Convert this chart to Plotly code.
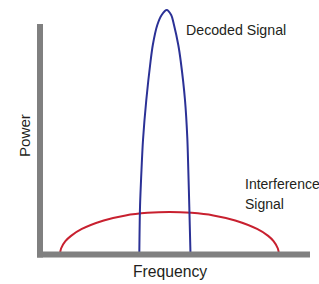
import plotly.graph_objects as go

# Decoded signal (narrow, tall)
blue_freq = [36.78, 37.04, 37.59, 38.15, 39.37, 40.96, 41.78, 43.44, 45.07, 46.93,
             48.59, 49.63, 51.22, 52.11, 53.70, 54.56, 54.93, 55.30, 55.74]
blue_power = [0, 20.65, 36.74, 49.78, 67.17, 84.13, 91.09, 99.78, 104.13, 106.30,
              104.13, 99.78, 91.09, 84.13, 67.17, 50.65, 36.74, 20.65, 0]

# Interference signal (wide, low)
red_freq = [7.4, 7.8, 9.4, 11.5, 15.5, 23.6, 31.7, 39.8, 48.0, 56.1, 64.2, 72.3, 80.4, 84.5, 86.5, 88.1, 88.5]
red_power = [0, 2.6, 5.8, 8.1, 11.1, 14.8, 17.0, 18.1, 18.5, 18.1, 17.0, 14.8, 11.1, 8.1, 5.8, 2.6, 0]

labels = {"decoded": "Decoded Signal", "interf1": "Interference", "interf2": "Signal",
          "x": "Frequency", "y": "Power"}

FONT = "Liberation Sans, Arial, Helvetica, sans-serif"
TXT = "#231f20"
GRAY = "#808080"

fig = go.Figure()
fig.add_trace(go.Scatter(x=red_freq, y=red_power, mode="lines",
                         line=dict(color="#c8202f", width=2, shape="spline"),
                         hoverinfo="skip", showlegend=False))
fig.add_trace(go.Scatter(x=blue_freq, y=blue_power, mode="lines",
                         line=dict(color="#2b3196", width=2, shape="spline", smoothing=0.8),
                         hoverinfo="skip", showlegend=False))

# L-shaped axes
fig.add_shape(type="line", x0=0, x1=0, y0=-1.3, y1=100.2, xref="x", yref="y",
              line=dict(color=GRAY, width=6), layer="above")
fig.add_shape(type="line", x0=-1.1, x1=100, y0=0, y1=0, xref="x", yref="y",
              line=dict(color=GRAY, width=6), layer="above")

fig.add_annotation(x=53.4, y=97.6, text=labels["decoded"], showarrow=False,
                   xanchor="left", yanchor="middle", font=dict(family=FONT, size=14.2, color=TXT))
fig.add_annotation(x=75.2, y=30.6, text=labels["interf1"], showarrow=False,
                   xanchor="left", yanchor="middle", font=dict(family=FONT, size=14, color=TXT))
fig.add_annotation(x=75.2, y=22.0, text=labels["interf2"], showarrow=False,
                   xanchor="left", yanchor="middle", font=dict(family=FONT, size=14, color=TXT))
fig.add_annotation(x=48.2, y=-7.2, text=labels["x"], showarrow=False,
                   xanchor="center", yanchor="middle", font=dict(family=FONT, size=15.7, color=TXT))
fig.add_annotation(x=-5.9, y=51.5, text=labels["y"], showarrow=False, textangle=-90,
                   xanchor="center", yanchor="middle", font=dict(family=FONT, size=15.2, color=TXT))

fig.update_layout(
    width=319, height=284,
    margin=dict(l=0, r=0, t=0, b=0),
    paper_bgcolor="white", plot_bgcolor="white",
    xaxis=dict(range=[-14.815, 103.333], visible=False, fixedrange=True),
    yaxis=dict(range=[-12.826, 110.652], visible=False, fixedrange=True),
    showlegend=False,
)

fig.write_html("out.html", config={"displayModeBar": False},
               post_script="document.body.style.margin='0';document.body.style.padding='0';")
